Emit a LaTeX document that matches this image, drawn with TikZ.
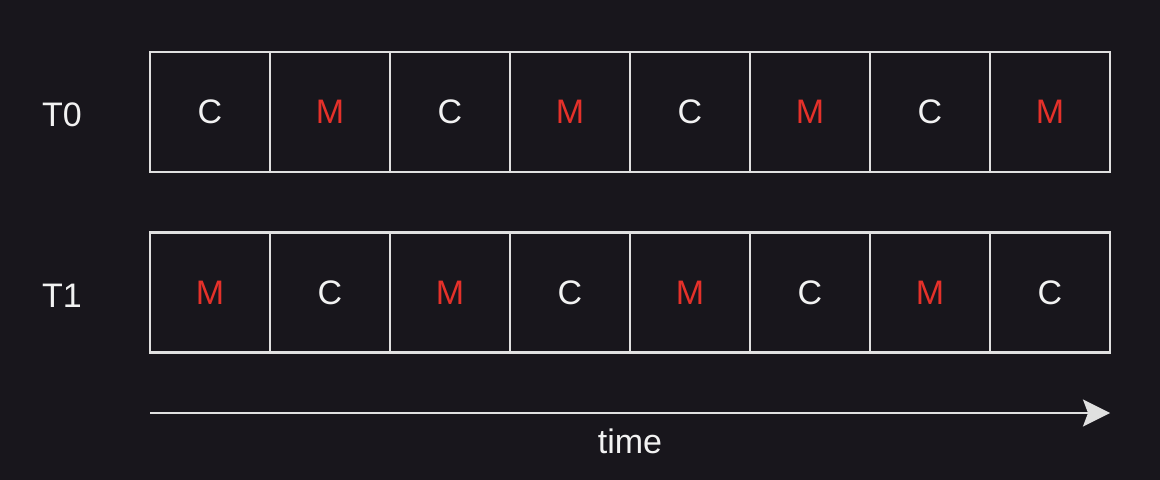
\documentclass[tikz,border=0pt]{standalone}
\usepackage{fontspec}
\setmainfont{Liberation Sans}
\usetikzlibrary{positioning, arrows.meta}

\definecolor{bg}{HTML}{18161C}
\definecolor{edge}{HTML}{E0E0E0}
\definecolor{ink}{HTML}{F2F2F2}
\definecolor{memred}{HTML}{E5312A}

\tikzset{
  slot/.style = {draw=edge, line width=1.25pt, minimum width=60pt, minimum height=60pt,
                 inner sep=0pt, outer sep=0pt, font=\fontsize{17}{17}\selectfont},
  cpuslot/.style = {slot, text=ink},
  memslot/.style = {slot, text=memred},
  thread/.style = {text=ink, font=\fontsize{17}{17}\selectfont},
  flow/.style = {draw=edge, line width=1.25pt, -{Stealth[length=13.5pt, width=13.5pt, inset=2.5pt]}}
}

\begin{document}
\begin{tikzpicture}[x=0.5pt, y=-0.5pt]
\fill[bg] (0,0) rectangle (1160,480);

% thread T0
\node [thread] (t0) at (62,115) {T0};
\foreach \s/\l [count=\i from 0] in {cpuslot/C, memslot/M, cpuslot/C, memslot/M, cpuslot/C, memslot/M, cpuslot/C, memslot/M}
  \node [\s] (a\i) at (210+120*\i, 112) {\l};

% thread T1
\node [thread] (t1) at (62,296) {T1};
\foreach \s/\l [count=\i from 0] in {memslot/M, cpuslot/C, memslot/M, cpuslot/C, memslot/M, cpuslot/C, memslot/M, cpuslot/C}
  \node [\s] (b\i) at (210+120*\i, 292.5) {\l};

% time axis
\coordinate (start) at (150,413);
\coordinate (stop) at (1110,413);
\draw [flow] (start) -- (stop);
\node [thread] (time) at (630,441) {time};
\end{tikzpicture}
\end{document}
